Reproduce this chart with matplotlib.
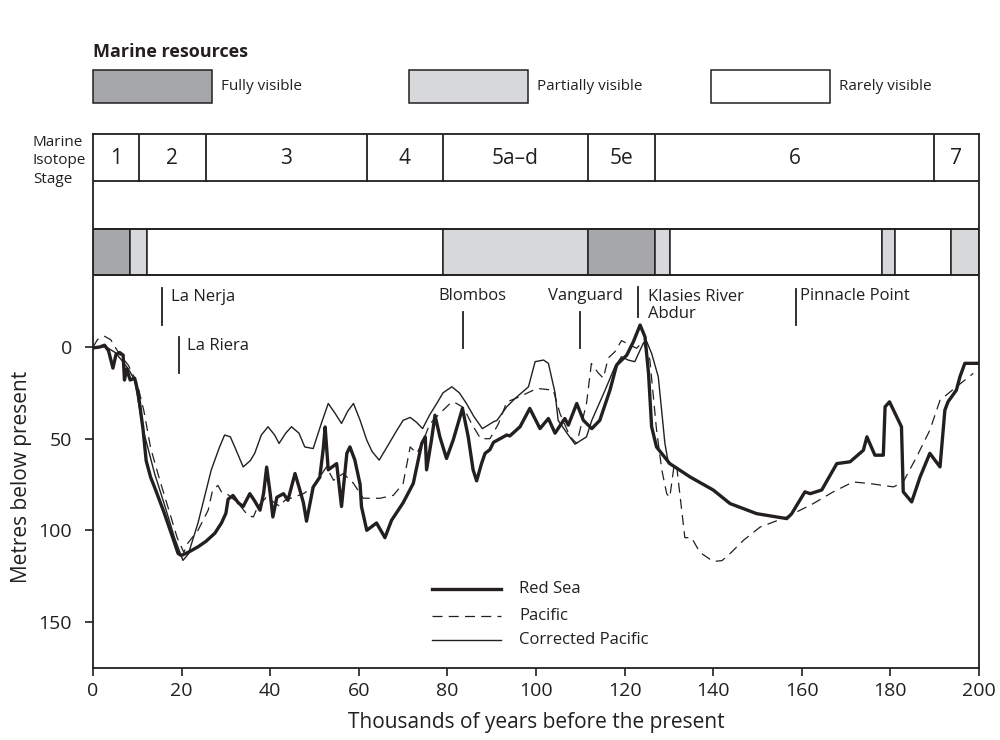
import matplotlib.pyplot as plt
from matplotlib.patches import Rectangle

plt.rcParams['font.family'] = ['Open Sans', 'DejaVu Sans']

# sea level curves (age in ka, depth in metres below present)
red_sea_age = [0, 1.5, 2.6, 3.5, 4.5, 5.2, 6, 6.8, 7.1, 7.6, 8.4, 9.4, 10.2, 11.3, 12, 13, 13.9,
               16, 18, 19.2, 19.9, 21.5, 23.7, 25.5, 27.5, 29, 30, 30.5, 31.6, 32.8, 33.9, 35.4,
               36.5, 37.7, 38.5, 39.2, 40, 40.6, 41.5, 43, 44, 45.6, 46.7, 47.5, 48.2, 49.7, 51.2,
               52, 52.4, 53.1, 55, 56.1, 57.3, 58, 59.1, 60.3, 60.6, 61.8, 64, 65.9, 67.4, 70,
               72.3, 74.2, 75, 75.3, 76.4, 77.2, 78.3, 79.8, 81.3, 83.4, 84.7, 85.8, 86.6, 87.7,
               88.5, 89.6, 90.4, 91.9, 93.4, 94.1, 96.4, 98.6, 100.9, 102.8, 104.3, 106.5, 107.3,
               109.2, 110.7, 112.6, 114.4, 116.7, 118.2, 120.5, 122, 123.5, 124.6, 125.4, 126.1,
               127.2, 130.2, 134.8, 140, 143.8, 149.8, 156.6, 157.7, 160.7, 161.9, 164.5, 167.9,
               170.9, 173.9, 174.7, 176.5, 178.4, 178.8, 179.8, 182.5, 182.9, 184.8, 186.7, 188.9,
               191.2, 192.3, 193, 194.9, 195.7, 196.8, 200]
red_sea_depth = [0.5, 0, -1, 2, 11.5, 4, 3, 4.4, 18, 12, 18, 17, 25, 45, 62, 71, 76.5,
                 90, 104, 112.6, 113.7, 112, 109, 106, 101.6, 96, 90.7, 83, 81, 85, 87, 80,
                 84, 89, 80, 65.5, 80, 92.7, 82, 80, 83.6, 69, 78, 85, 95, 76.4, 71,
                 55, 43.6, 67, 63.6, 87, 58, 54.5, 61.6, 75, 87, 100, 96, 104, 94.5, 85,
                 74.4, 52.6, 49, 67, 50.8, 37.2, 49, 60.8, 50.8, 33.5, 49, 67, 73, 63.6,
                 58, 56, 52, 50, 48, 48.5, 43.5, 33.5, 44.5, 39, 47, 39, 42.6,
                 30.8, 40, 44.5, 40, 23.5, 9.8, 4.4, -3, -12, -5.6, 14.3, 43.5,
                 54.5, 63.6, 70.9, 78, 85.4, 90.9, 93.6, 91, 79, 80, 78, 63.6,
                 62.6, 56.3, 49, 59, 59, 32.6, 29.9, 43.5, 79, 84.5, 70.9, 58,
                 65.4, 34.4, 29.9, 23.5, 16.2, 8.9, 8.9]

pacific_age = [0, 1, 2.5, 4, 5, 6, 8, 10, 11.5, 13, 15, 17, 19, 20.5, 21.4, 23.7, 26, 27, 28.2,
               29, 30.2, 32.7, 35, 36.2, 37.2, 39.2, 41, 42.2, 43.3, 45.2, 47.5, 49.7, 52.7,
               54.3, 56.5, 58.8, 61, 64.8, 67.8, 70, 71.6, 73.1, 74.6, 76, 78.3, 80.6, 81.5,
               83.6, 85.5, 87.5, 89.6, 91.5, 93.4, 96.4, 100.2, 103.9, 105.4, 107.7, 109.2,
               111.4, 112.5, 114, 115.2, 116.3, 117.8, 119.3, 120.5, 122.7, 124.2, 125.7,
               127.2, 128.4, 129.5, 130.2, 131.2, 131.8, 133.6, 135.1, 137, 140, 142, 143.8,
               146.8, 150.6, 156.6, 162.6, 167.1, 171.6, 175.4, 180.7, 182.9, 185.9, 188.9,
               191.2, 194.9, 198.7]
pacific_depth = [0, -4, -6, -4, 0, 4, 10, 20, 35, 55, 72, 88, 104, 112, 107, 100, 89, 78, 75.5,
                 79, 80, 85, 92, 92.7, 87, 81.8, 85, 87, 83.6, 82, 80, 76.3, 65.4,
                 72.7, 69, 74.4, 82.5, 82.5, 80.9, 74.5, 54.5, 58, 50.8, 42, 36.2, 30.8, 30,
                 33, 42, 50, 50, 42, 30, 27, 22.6, 23.5, 36.2, 49, 52.6,
                 30.8, 9, 14, 17, 6, 2.6, -3.5, -2, 0.7, -3, 7,
                 45, 67, 80, 82, 64, 66, 104, 104, 112, 117, 116.5, 112.7,
                 105.5, 98.2, 92.7, 85.4, 79, 73.6, 74.5, 76.3, 73.6, 60, 45.4,
                 29, 21.7, 14.4]

corr_age = [0, 3, 5, 6.4, 8, 9.4, 11.3, 13.9, 16, 18.4, 20.3, 21.5, 23.7, 26.7, 28.5, 29.7, 31,
            32, 33.9, 35.5, 36.5, 38, 39.5, 41, 42, 43.5, 44.8, 46.5, 47.8, 49.7, 51.5, 53.1,
            54.6, 56.1, 57.5, 58.8, 60.3, 61.8, 63, 64.6, 66.5, 68.6, 70, 71.6, 73, 74.4, 76,
            77.6, 79, 81, 82.7, 84.3, 86, 87.9, 90.4, 91.2, 93.4, 95.3, 98.3, 99.8, 101.7,
            102.8, 104.3, 105, 107, 108.8, 111.4, 112.6, 115.6, 117.8, 119.3, 120.8, 122.3,
            124.2, 125, 126.1, 127.6, 129.1, 129.9]
corr_depth = [0, 0, 3, 7, 12, 18, 45, 69, 85, 104, 116.4, 113, 96, 67, 55, 48, 49,
              54.5, 65.4, 62, 58, 48, 43.5, 48, 52.6, 47, 43.5, 47, 54.5, 55.4, 42, 30.8,
              36, 41.7, 35, 30.8, 40, 50.8, 57, 61.7, 54, 45.4, 40, 38.4, 41, 44.5, 37,
              30.8, 25, 21.7, 25, 30.8, 38, 44.5, 40.8, 40, 32.6, 28, 21.7, 8, 7.1,
              8.9, 25, 40, 47, 53, 49, 40, 23.5, 10.8, 5.3, 7.1, 8,
              -2, -2.9, 3.5, 16.2, 52.6, 63.6]

# marine isotope stages
mis_labels = ['1', '2', '3', '4', '5a–d', '5e', '6', '7']
mis_bounds = [0, 10.3, 25.5, 61.8, 79, 111.7, 126.9, 189.8, 200]

# marine resource visibility
res_bounds = [0, 8.4, 12.2, 79, 111.7, 126.9, 130.2, 178, 181, 193.6, 200]
res_class = ['Fully visible', 'Partially visible', 'Rarely visible', 'Partially visible',
             'Fully visible', 'Partially visible', 'Rarely visible', 'Partially visible',
             'Rarely visible', 'Partially visible']
res_colors = {'Fully visible': '#a6a7aa', 'Partially visible': '#d7d8da', 'Rarely visible': 'white'}

# archaeological sites
site_names = ['La Nerja', 'La Riera', 'Blombos', 'Vanguard', 'Klasies River\nAbdur', 'Pinnacle Point']
site_ages = [15.6, 19.4, 83.6, 110, 123, 158.8]

ink = '#231f20'
fig = plt.figure(figsize=(10, 7.4), dpi=100)
ax = fig.add_axes([0.093, 0.0973, 0.886, 0.7216])
ax.set_xlim(0, 200)
ax.set_ylim(175.1, -116.2)

# stage band
for y in [-90.5, -64.4, -39.3]:
    ax.plot([0, 200], [y, y], color=ink, lw=1.3, solid_capstyle='butt')
for b in mis_bounds[1:-1]:
    ax.plot([b, b], [-116.2, -90.5], color=ink, lw=1.3)
for i, lab in enumerate(mis_labels):
    ax.text((mis_bounds[i] + mis_bounds[i + 1]) / 2, -103, lab, ha='center', va='center',
            fontsize=15, color=ink)

# resource bar
for i, c in enumerate(res_class):
    ax.add_patch(Rectangle((res_bounds[i], -64.4), res_bounds[i + 1] - res_bounds[i], 25.1,
                           facecolor=res_colors[c], edgecolor=ink, lw=1.1))

# sites
marks = [(-32.2, -12), (-5.5, 14.2), (-19, 0.5), (-19, 0.5), (-32.7, -16.4), (-31.6, -12)]
for name, age, (y0, y1) in zip(site_names, site_ages, marks):
    ax.plot([age, age], [y0, y1], color=ink, lw=1.3)
txt = [(17.6, -27.5, 'left'), (21.2, -0.8, 'left'), (85.6, -28, 'center'),
       (111.2, -28, 'center'), (125.3, -22.5, 'left'), (159.6, -28, 'left')]
for name, (x, y, ha) in zip(site_names, txt):
    ax.text(x, y, name, ha=ha, va='center', fontsize=12, color=ink, linespacing=1.05)

# curves
ax.plot(pacific_age, pacific_depth, color=ink, lw=0.9, dashes=(8, 5))
ax.plot(corr_age, corr_depth, color=ink, lw=1.0)
ax.plot(red_sea_age, red_sea_depth, color=ink, lw=2.4, solid_joinstyle='round')

# legend
leg_y = [132, 146.7, 159.8]
ax.plot([76.5, 92], [leg_y[0]] * 2, color=ink, lw=2.4)
ax.plot([76.5, 92], [leg_y[1]] * 2, color=ink, lw=0.9, dashes=(8, 5))
ax.plot([76.5, 92], [leg_y[2]] * 2, color=ink, lw=1.0)
for y, lab in zip(leg_y, ['Red Sea', 'Pacific', 'Corrected Pacific']):
    ax.text(96.2, y, lab, va='center', fontsize=12, color=ink)

ax.set_xticks(range(0, 201, 20))
ax.set_yticks([0, 50, 100, 150])
ax.tick_params(direction='out', length=6, width=1.2, colors=ink, labelsize=14, pad=4)
ax.tick_params(axis='y', pad=9)
for s in ax.spines.values():
    s.set_linewidth(1.3)
    s.set_color(ink)

fig.text(0.536, 0.024, 'Thousands of years before the present', ha='center', va='center',
         fontsize=15, color=ink)
fig.text(0.0215, 0.355, 'Metres below present', rotation=90, ha='center', va='center',
         fontsize=15, color=ink)
fig.text(0.033, 1 - 161 / 740, 'Marine\nIsotope\nStage', ha='left', va='center',
         fontsize=11, color=ink, linespacing=1.28)

# top key
fig.text(0.093, 1 - 52 / 740, 'Marine resources', fontsize=13, fontweight='bold',
         color=ink, va='center')
key_x = [93, 409, 711]
for kx, lab in zip(key_x, ['Fully visible', 'Partially visible', 'Rarely visible']):
    fig.add_artist(Rectangle((kx / 1000, 1 - 103 / 740), 0.119, 33 / 740,
                             transform=fig.transFigure, facecolor=res_colors[lab],
                             edgecolor=ink, lw=1.1))
    fig.text((kx + 128) / 1000, 1 - 86 / 740, lab, fontsize=11, color=ink, va='center')

fig.savefig('out.png', dpi=100)
